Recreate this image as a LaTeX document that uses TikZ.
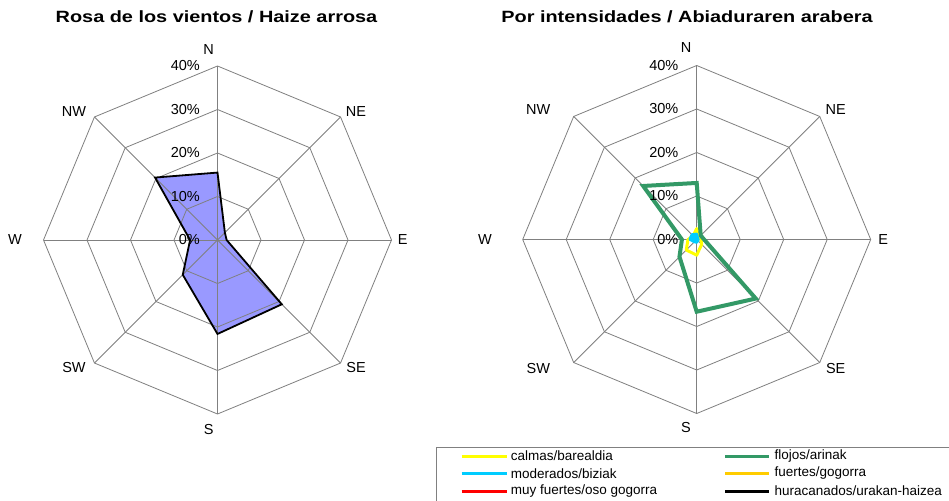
\documentclass[tikz,border=0pt]{standalone}
\usepackage{fontspec}
\setmainfont{Liberation Sans}
\newfontfamily\titlefont[FakeStretch=1.22]{Liberation Sans}
\definecolor{gridc}{RGB}{128,128,128}
\definecolor{fillc}{RGB}{153,153,255}
\definecolor{greenc}{RGB}{51,153,102}
\definecolor{yellowc}{RGB}{255,255,0}
\definecolor{bluec}{RGB}{0,204,255}
\definecolor{redc}{RGB}{255,0,0}
\definecolor{goldc}{RGB}{255,204,0}
\newcommand\rp[2]{({-90+45*#1}:{#2*4.35})}
\newcommand\rosegrid{%
  \foreach \r in {43.5,87,130.5,174} {
    \draw[ring] (-90:\r) \foreach \k in {1,...,7} { -- ({-90+45*\k}:\r) } -- cycle;
  }
  \foreach \k in {0,...,7} { \draw[spoke] (0,0) -- ({-90+45*\k}:174); }
}
\newcommand\leftpoly{\rp{0}{15.5} -- \rp{1}{2.4} -- \rp{2}{2.1} -- \rp{3}{20.9} --
    \rp{4}{21.6} -- \rp{5}{11.3} -- \rp{6}{6.3} -- \rp{7}{20.3} -- cycle}
\begin{document}
\begin{tikzpicture}[x=1pt,y=-1pt,
  ring/.style={draw=gridc,line width=0.8pt},
  spoke/.style={draw=gridc,line width=0.8pt},
  dirlab/.style={font=\fontsize{14.5}{17}\selectfont,inner sep=0pt},
  pctlab/.style={font=\fontsize{14.5}{17}\selectfont,inner sep=0pt,anchor=east},
  ttl/.style={font=\titlefont\bfseries\fontsize{16.3}{19}\selectfont,inner sep=0pt},
  legtxt/.style={font=\fontsize{13.5}{16}\selectfont,inner sep=0pt,anchor=west},
  legline/.style={line width=3pt}]
\useasboundingbox (0,0) rectangle (949,500);
\clip (0,0) rectangle (949,500);
\fill[white] (0,0) rectangle (949,500);

% titles
\node[ttl] (t1) at (216.5,17) {Rosa de los vientos / Haize arrosa};
\node[ttl] (t2) at (687,17) {Por intensidades / Abiaduraren arabera};

% ---------- left rose ----------
\begin{scope}[shift={(217.5,240)}]
  \fill[fillc] \leftpoly;
  \rosegrid
  \draw[draw=black,line width=1.8pt,line join=miter] \leftpoly;
\end{scope}
\node[dirlab] (lN)  at (208.7,49.3) {N};
\node[dirlab] (lNE) at (356,111.7) {NE};
\node[dirlab] (lE)  at (402.7,240) {E};
\node[dirlab] (lSE) at (356,368) {SE};
\node[dirlab] (lS)  at (208.7,430) {S};
\node[dirlab] (lSW) at (74,368) {SW};
\node[dirlab] (lW)  at (15,240) {W};
\node[dirlab] (lNW) at (74,111.7) {NW};
\node[pctlab] (lp40) at (200,66) {40\%};
\node[pctlab] (lp30) at (200,109.5) {30\%};
\node[pctlab] (lp20) at (200,153) {20\%};
\node[pctlab] (lp10) at (200,196.5) {10\%};
\node[pctlab] (lp0)  at (200,240) {0\%};

% ---------- right rose ----------
\begin{scope}[shift={(696.7,239.5)}]
  \rosegrid
  \draw[draw=yellowc,line width=3pt,line join=round]
    \rp{0}{2.5} -- \rp{1}{0.7} -- \rp{2}{1.0} -- \rp{3}{1.6} --
    \rp{4}{3.6} -- \rp{5}{3.4} -- \rp{6}{2.0} -- \rp{7}{1.2} -- cycle;
  \draw[draw=greenc,line width=4pt,line join=miter]
    \rp{0}{13.0} -- \rp{1}{1.3} -- \rp{2}{1.7} -- \rp{3}{19.2} --
    \rp{4}{16.6} -- \rp{5}{5.6} -- \rp{6}{3.4} -- \rp{7}{17.4} -- cycle;
  \draw[draw=bluec,fill=bluec,line width=2.5pt,line join=round]
    \rp{0}{1.3} -- \rp{1}{0.4} -- \rp{2}{0.4} -- \rp{3}{0.4} --
    \rp{4}{0.7} -- \rp{5}{0.8} -- \rp{6}{1.6} -- \rp{7}{1.6} -- cycle;
\end{scope}
\node[dirlab] (rN)  at (686,47.3) {N};
\node[dirlab] (rNE) at (835.7,109.3) {NE};
\node[dirlab] (rE)  at (883.3,239.3) {E};
\node[dirlab] (rSE) at (835.7,368.3) {SE};
\node[dirlab] (rS)  at (686,428) {S};
\node[dirlab] (rSW) at (538.3,368.3) {SW};
\node[dirlab] (rW)  at (485,239.3) {W};
\node[dirlab] (rNW) at (538.3,109.3) {NW};
\node[pctlab] (rp40) at (678.5,65.5) {40\%};
\node[pctlab] (rp30) at (678.5,109) {30\%};
\node[pctlab] (rp20) at (678.5,152.5) {20\%};
\node[pctlab] (rp10) at (678.5,196) {10\%};
\node[pctlab] (rp0)  at (678.5,239.5) {0\%};

% ---------- legend ----------
\draw[draw=gridc,line width=0.8pt] (436.5,447.5) rectangle (965,515);
\coordinate (la1) at (461.7,456);   \coordinate (lb1) at (507,456);
\coordinate (la2) at (461.7,473.3); \coordinate (lb2) at (507,473.3);
\coordinate (la3) at (461.7,491);   \coordinate (lb3) at (507,491);
\coordinate (ma1) at (725,456);     \coordinate (mb1) at (769.3,456);
\coordinate (ma2) at (725,473.3);   \coordinate (mb2) at (769.3,473.3);
\coordinate (ma3) at (725,491);     \coordinate (mb3) at (769.3,491);
\draw[legline,yellowc] (la1) -- (lb1);
\draw[legline,bluec]   (la2) -- (lb2);
\draw[legline,redc]    (la3) -- (lb3);
\draw[legline,greenc]  (ma1) -- (mb1);
\draw[legline,goldc]   (ma2) -- (mb2);
\draw[legline,black]   (ma3) -- (mb3);
\node[legtxt] (g1) at (510.7,456) {calmas/barealdia};
\node[legtxt] (g2) at (510.7,473.3) {moderados/biziak};
\node[legtxt] (g3) at (510.7,491) {muy fuertes/oso gogorra};
\node[legtxt] (g4) at (774.3,456) {flojos/arinak};
\node[legtxt] (g5) at (774.3,473.3) {fuertes/gogorra};
\node[legtxt] (g6) at (774.3,491) {huracanados/urakan-haizea};
\end{tikzpicture}
\end{document}
